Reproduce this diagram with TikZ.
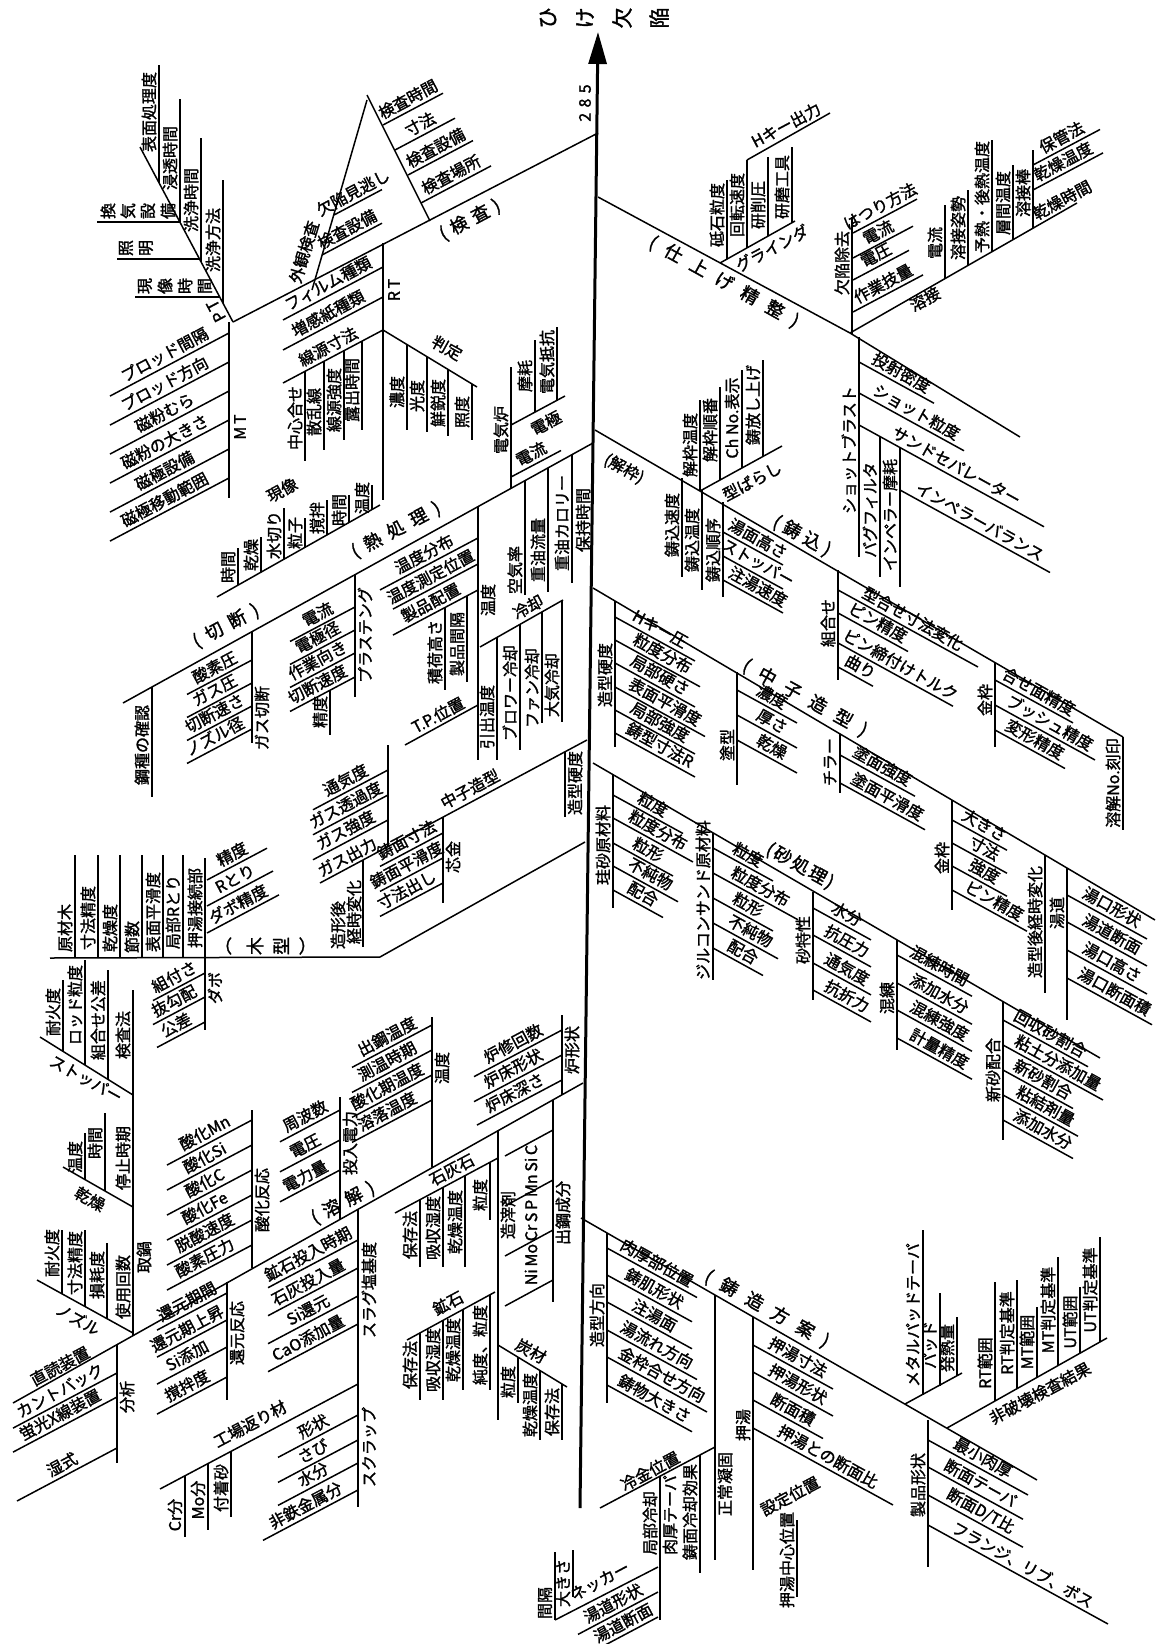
\documentclass[tikz,border=0pt]{standalone}
\usepackage{fontspec}
\usepackage{graphicx}
\setmainfont{Noto Sans CJK JP}[AutoFakeBold=1.6]
\usetikzlibrary{arrows.meta}
\newcounter{nn}
\tikzset{
  ln/.style={line width=1.5pt},
  sp/.style={line width=3pt},
  tx/.style={inner sep=0pt, font=\fontsize{16}{17}\selectfont\bfseries},
  ml/.style={inner sep=0pt, font=\fontsize{18}{19}\selectfont\bfseries},
  tl/.style={inner sep=0pt, font=\fontsize{21}{22}\selectfont\bfseries},
  vv/.style={tx, rotate=90},
  dl/.style={tx, rotate=28},
  dr/.style={tx, rotate=-29},
}
\makeatletter
\newcommand\spc[2][8pt]{\@tfor\@ch:=#2\do{\@ch\hspace{#1}}\unskip}
\newcommand\mylb[3]{\stepcounter{nn}\node[#1] (n\arabic{nn}) at (#2) {#3};}
% a row of glyphs, each one turned a quarter turn: style, x0, y, step, text
\newcommand\grow[5]{\pgfmathsetmacro\gx{#2}\@tfor\@ch:=#5\do{\mylb{#1,rotate=90}{\gx,#3}{\@ch}\pgfmathsetmacro\gx{\gx+#4}}}
\makeatother
\newcommand\lfL[4]{\pgfmathsetmacro\xa{#1-#3}\pgfmathsetmacro\ya{#2+0.53*#3}\pgfmathsetmacro\xm{#1-0.5*#3-5}\pgfmathsetmacro\ym{#2+0.265*#3-10}\draw[ln] (#1,#2) -- (\xa,\ya);\mylb{dl}{\xm,\ym}{#4}}
\newcommand\lfR[4]{\pgfmathsetmacro\xa{#1+#3}\pgfmathsetmacro\ya{#2+0.55*#3}\pgfmathsetmacro\xm{#1+0.5*#3+5}\pgfmathsetmacro\ym{#2+0.275*#3-10}\draw[ln] (#1,#2) -- (\xa,\ya);\mylb{dr}{\xm,\ym}{#4}}
\newcommand\lfU[4]{\pgfmathsetmacro\xa{#1+#3}\pgfmathsetmacro\ya{#2-0.53*#3}\pgfmathsetmacro\xm{#1+0.5*#3-5}\pgfmathsetmacro\ym{#2-0.265*#3-10}\draw[ln] (#1,#2) -- (\xa,\ya);\mylb{dl}{\xm,\ym}{#4}}
\newcommand\vbL[5]{\draw[ln] (#1,#2) -- (#1,#3);\pgfmathsetmacro\xm{#1-10}\mylb{vv}{\xm,#4}{#5}}
\newcommand\vbR[5]{\draw[ln] (#1,#2) -- (#1,#3);\pgfmathsetmacro\xm{#1+10}\mylb{vv}{\xm,#4}{#5}}
\begin{document}
\begin{tikzpicture}[x=1pt,y=-1pt]
\useasboundingbox (0,0) rectangle (1157,1644);
% ---------------- spine ----------------
\draw[sp,-{Triangle[length=32pt,width=18pt]}] (580,1508) -- (598,32);
\mylb{vv}{585,103}{2\,\,8\,\,5}
\grow{tl}{548}{18}{37}{ひけ欠陥}
% ================= LEFT: (検査) =================
\draw[ln] (598,133) -- (233,322);
\mylb{ml,rotate=28}{470,220}{\spc[6pt]{(検査)}}
% PT
\draw[ln] (233,322) -- (140,147);
\mylb{tx,rotate=118}{216,311}{P\,T}
\vbL{223}{303}{180}{240}{洗浄方法}
\vbL{201}{262}{138}{200}{洗浄時間}
\vbL{180}{222}{99}{158}{浸透時間}
\vbL{159}{183}{65}{112}{表面処理度}
\draw[ln] (97,222) -- (180,222); \grow{tx}{108}{211}{20}{換気設備}
\draw[ln] (117,259) -- (200,259); \grow{tx}{126}{248}{20}{照明}
\draw[ln] (135,297) -- (220,297); \grow{tx}{145}{286}{20}{現像時間}
% MT
\draw[ln] (229,322) -- (229,498);
\mylb{vv}{240,427}{M\,T}
\lfL{229}{333}{119}{プロッド間隔}
\lfL{229}{362}{119}{プロッド方向}
\lfL{229}{391}{119}{磁粉むら}
\lfL{229}{420}{119}{磁粉の大きさ}
\lfL{229}{449}{119}{磁極設備}
\lfL{229}{478}{119}{磁極移動範囲}
% RT
\draw[ln] (383,243) -- (383,500);
\mylb{vv}{394,290}{R\,T}
\lfL{383}{267}{100}{フィルム種類}
\lfL{383}{297}{100}{増感紙種類}
\lfL{383}{330}{100}{線源寸法}
\vbL{305}{371}{461}{418}{中心合せ}
\vbL{324}{361}{450}{412}{散乱線}
\vbL{344}{350}{440}{400}{線源強度}
\vbL{362}{341}{430}{390}{露出時間}
\draw[ln] (383,330) -- (477,387);
\mylb{dr}{447,348}{判定}
\vbL{407}{345}{430}{392}{濃度}
\vbL{427}{357}{432}{396}{光度}
\vbL{448}{370}{436}{403}{鮮鋭度}
\vbL{472}{384}{440}{412}{照度}
% 現像
\draw[ln] (217,597) -- (380,505);
\mylb{dl}{282,490}{現像}
\vbL{238}{585}{548}{567}{時間}
\vbL{261}{572}{537}{555}{乾燥}
\vbL{284}{559}{508}{535}{水切り}
\vbL{305}{547}{518}{533}{粒子}
\vbL{327}{535}{500}{518}{撹拌}
\vbL{349}{523}{495}{510}{時間}
\vbL{372}{510}{485}{498}{温度}
% 寸法 / 外観 clusters
\draw[ln] (430,221) -- (367,95);
\lfU{421}{203}{70}{検査場所}
\lfU{408}{175}{65}{検査設備}
\lfU{395}{150}{60}{寸法}
\lfU{383}{125}{60}{検査時間}
\draw[ln] (312,290) -- (367,100);
\mylb{tx,rotate=73}{304,252}{外観検査}
\lfU{334}{215}{48}{欠陥見逃し}
\lfU{322}{255}{60}{検査設備}
% ================= LEFT: (熱処理)(切断) =================
\draw[ln] (593,443) -- (123,703);
\mylb{ml,rotate=28}{396,530}{\spc[8pt]{(熱処理)}}
\mylb{ml,rotate=28}{226,626}{\spc[8pt]{(切断)}}
\vbL{152}{687}{797}{745}{鋼種の確認}
\vbR{252}{632}{743}{718}{ガス切断}
\lfL{252}{660}{65}{酸素圧}
\lfL{252}{683}{65}{ガス圧}
\lfL{252}{706}{65}{切断速さ}
\lfL{252}{729}{65}{ノズル径}
\vbR{355}{575}{697}{635}{プラステング}
\lfL{355}{607}{65}{電流}
\lfL{355}{630}{65}{電極径}
\lfL{355}{653}{65}{作業向き}
\lfL{355}{677}{65}{切断速度}
\vbL{330}{690}{735}{712}{精度}
% 電気炉
\vbL{511}{367}{488}{430}{電気炉}
\draw[ln] (511,425) -- (565,396);
\mylb{dl}{546,423}{電極}
\vbL{535}{412}{340}{376}{摩耗}
\vbL{557}{401}{327}{362}{電気抵抗}
\lfU{511}{477}{50}{電流}
% 重油炉
\vbL{525}{481}{595}{570}{空気率}
\vbL{548}{468}{592}{550}{重油流量}
\vbL{572}{455}{583}{523}{重油カロリー}
\mylb{vv}{583,520}{保持時間}
% 温度
\vbR{478}{507}{760}{600}{温度}
\lfL{478}{538}{98}{温度分布}
\lfL{478}{564}{85}{温度測定位置}
\lfL{478}{590}{85}{製品配置}
\vbL{445}{607}{690}{652}{積荷高さ}
\vbL{467}{596}{682}{644}{製品間隔}
\draw[ln] (480,647) -- (563,600);
\mylb{dl}{528,607}{冷却}
\vbL{497}{637}{760}{717}{引出温度}
\vbL{520}{624}{750}{693}{ブロワー冷却}
\vbL{542}{612}{723}{688}{ファン冷却}
\vbL{562}{601}{722}{685}{大気冷却}
\draw[ln] (405,745) -- (478,705);
\mylb{dl}{438,715}{T.P.位置}
% ================= LEFT: 中子 bone =================
\draw[ln] (587,740) -- (320,883);
\mylb{dl}{470,789}{中子造型}
\vbR{565}{752}{817}{783}{造型硬度}
\vbR{443}{817}{903}{857}{芯金}
\lfL{443}{833}{63}{鋳面寸法}
\lfL{443}{858}{63}{鋳面平滑度}
\lfL{443}{883}{63}{寸法出し}
\draw[ln] (388,847) -- (388,745);
\lfL{388}{770}{75}{通気度}
\lfL{388}{795}{75}{ガス透過度}
\lfL{388}{820}{75}{ガス強度}
\mylb{dl}{347,857}{ガス出力}
\draw[ln] (363,860) -- (363,947);
\mylb{vv}{354,912}{経時変化}
\mylb{vv}{338,925}{造形後}
% ================= LEFT: (木型) =================
\draw[ln] (585,842) -- (380,957) -- (50,958);
\grow{ml}{229}{946}{26}{︵木型︶}
\vbL{75}{958}{855}{928}{原材木}
\vbL{98}{958}{855}{918}{寸法精度}
\vbL{120}{958}{855}{928}{乾燥度}
\vbL{142}{958}{855}{937}{節数}
\vbL{163}{958}{855}{912}{表面平滑度}
\vbL{183}{958}{855}{912}{局部Rとり}
\vbL{205}{958}{858}{908}{押湯接続部}
\lfU{207}{880}{60}{精度}
\lfU{207}{906}{66}{Rとり}
\lfU{207}{933}{72}{ダボ精度}
\vbR{205}{958}{1030}{988}{ダボ}
\lfL{205}{973}{52}{組付さ}
\lfL{205}{997}{52}{抜勾配}
\lfL{205}{1022}{48}{公差}
% ================= LEFT: (溶解) =================
\draw[ln] (583,1083) -- (13,1403);
\mylb{ml,rotate=28}{343,1203}{\spc[7pt]{(溶解)}}
\vbR{553}{1100}{1302}{1213}{出鋼成分}
\mylb{vv}{531,1215}{Ni\,Mo\,Cr\,S\,P\,Mn\,Si\,C}
\draw[ln] (553,1130) -- (505,1156);
\draw[ln] (553,1180) -- (505,1206);
\draw[ln] (553,1230) -- (505,1256);
\draw[ln] (553,1280) -- (505,1306);
\vbR{498}{1130}{1420}{1215}{造滓剤}
\draw[ln] (498,1158) -- (395,1213);
\mylb{dl}{452,1170}{石灰石}
\vbL{420}{1200}{1267}{1235}{保存法}
\vbL{443}{1188}{1267}{1228}{吸収湿度}
\vbL{465}{1176}{1267}{1222}{乾燥温度}
\vbL{490}{1162}{1220}{1195}{粒度}
\draw[ln] (495,1292) -- (407,1340);
\mylb{dl}{448,1303}{鉱石}
\vbL{420}{1333}{1400}{1365}{保存法}
\vbL{443}{1320}{1400}{1360}{吸収湿度}
\vbL{463}{1310}{1390}{1350}{乾燥温度}
\vbL{490}{1295}{1390}{1345}{純度、粒度}
\draw[ln] (498,1345) -- (567,1387);
\mylb{dr}{531,1351}{炭材}
\vbL{518}{1357}{1403}{1382}{粒度}
\vbL{540}{1370}{1440}{1405}{乾燥温度}
\vbL{562}{1384}{1440}{1412}{保存法}
\vbR{562}{1095}{1015}{1050}{炉形状}
\lfL{562}{1030}{88}{炉修回数}
\lfL{562}{1055}{88}{炉床形状}
\lfL{562}{1080}{85}{炉床深さ}
\vbR{432}{1167}{1017}{1068}{温度}
\lfL{432}{1025}{80}{出鋼温度}
\lfL{432}{1050}{80}{測温時期}
\lfL{432}{1075}{80}{酸化期温度}
\lfL{432}{1100}{80}{溶落温度}
\vbR{340}{1219}{1097}{1143}{投入電力}
\lfL{340}{1110}{60}{周波数}
\lfL{340}{1140}{60}{電圧}
\lfL{340}{1170}{60}{電力量}
\vbR{252}{1268}{1110}{1200}{酸化反応}
\lfL{252}{1120}{85}{酸化Mn}
\lfL{252}{1145}{85}{酸化Si}
\lfL{252}{1170}{85}{酸化C}
\lfL{252}{1195}{85}{酸化Fe}
\lfL{252}{1220}{85}{脱酸速度}
\lfL{252}{1245}{85}{酸素圧力}
% 取鍋
\draw[ln] (133,990) -- (133,1335);
\mylb{vv}{144,1257}{取鍋}
\draw[ln] (133,1095) -- (40,1037);
\mylb{dr}{86,1079}{ストッパー}
\vbL{63}{1051}{980}{1012}{耐火度}
\vbL{85}{1065}{960}{1005}{ロッド粒度}
\vbL{108}{1079}{970}{1020}{組合せ公差}
\mylb{vv}{123,1035}{検査法}
\draw[ln] (133,1207) -- (63,1167);
\mylb{dr}{90,1199}{乾燥}
\vbL{85}{1180}{1133}{1157}{温度}
\vbL{105}{1191}{1113}{1143}{時間}
\mylb{vv}{123,1158}{停止時期}
\draw[ln] (133,1333) -- (37,1280);
\mylb{dr}{78,1319}{ノズル}
\vbL{62}{1294}{1230}{1253}{耐火度}
\vbL{85}{1306}{1230}{1263}{寸法精度}
\vbL{107}{1319}{1243}{1275}{損耗度}
\mylb{vv}{123,1287}{使用回数}
% 分析
\vbR{117}{1345}{1463}{1397}{分析}
\mylb{dl}{60,1366}{直読装置}
\lfL{117}{1373}{104}{カントバック}
\lfL{117}{1397}{104}{蛍光X線装置}
\lfL{117}{1448}{100}{湿式}
% 還元反応
\vbR{227}{1282}{1400}{1333}{還元反応}
\lfL{227}{1293}{70}{還元期間}
\lfL{227}{1320}{70}{還元期上昇}
\lfL{227}{1347}{70}{Si添加}
\lfL{227}{1377}{70}{撹拌度}
% スラグ塩基度 / スクラップ
\draw[ln] (358,1209) -- (358,1507);
\mylb{vv}{369,1290}{スラグ塩基度}
\mylb{vv}{369,1447}{スクラップ}
\lfL{358}{1240}{90}{鉱石投入時期}
\lfL{358}{1268}{90}{石灰投入量}
\lfL{358}{1296}{90}{Si還元}
\lfL{358}{1324}{90}{CaO添加量}
\draw[ln] (358,1384) -- (160,1489);
\mylb{dl}{250,1424}{工場返り材}
\vbL{185}{1476}{1537}{1515}{Cr分}
\vbL{208}{1464}{1530}{1500}{Mo分}
\vbL{231}{1451}{1517}{1488}{付着砂}
\lfL{358}{1415}{80}{形状}
\lfL{358}{1440}{80}{さび}
\lfL{358}{1463}{80}{水分}
\lfL{358}{1490}{95}{非鉄金属分}
% ================= RIGHT: (仕上げ精整) =================
\draw[ln] (598,197) -- (850,333) -- (1020,437);
\mylb{ml,rotate=-29}{724,282}{\spc[11pt]{(仕上げ精整)}}
\draw[ln] (720,263) -- (795,221);
\mylb{dl}{772,248}{グラインダ}
\vbL{727}{259}{180}{215}{砥石粒度}
\vbL{747}{248}{160}{205}{回転速度}
\vbL{768}{236}{157}{205}{研削圧}
\vbL{792}{223}{147}{187}{研磨工具}
\draw[ln] (747,160) -- (830,113);
\mylb{dl}{786,125}{Hキー出力}
\vbL{852}{334}{217}{263}{欠陥除去}
\lfU{853}{233}{64}{はつり方法}
\lfU{853}{258}{60}{電流}
\lfU{853}{280}{56}{電圧}
\lfU{853}{312}{70}{作業技量}
\draw[ln] (850,333) -- (1077,203);
\mylb{dl}{925,299}{溶接}
\vbL{945}{279}{205}{243}{電流}
\vbL{968}{266}{190}{228}{溶接姿勢}
\vbL{992}{252}{140}{197}{予熱・後熱温度}
\vbL{1013}{240}{165}{203}{層間温度}
\vbL{1033}{228}{150}{193}{溶接棒}
\lfU{1033}{165}{67}{保管法}
\lfU{1033}{190}{70}{乾燥温度}
\mylb{dl}{1062,200}{乾燥時間}
\vbL{859}{337}{557}{450}{ショットブラスト}
\lfR{859}{362}{75}{投射密度}
\lfR{859}{393}{105}{ショット粒度}
\lfR{859}{425}{185}{サンドセパレーター}
\vbL{880}{437}{577}{510}{バグフィルタ}
\vbL{900}{447}{587}{515}{インペラー摩耗}
\lfR{900}{490}{150}{インペラーバランス}
% ================= RIGHT: (解枠)(鋳込) =================
\draw[ln] (595,430) -- (1123,737);
\mylb{dr}{624,469}{(解枠)}
\vbL{700}{491}{400}{445}{解枠温度}
\draw[ln] (700,491) -- (782,446);
\vbL{720}{480}{387}{430}{解枠順番}
\vbL{742}{468}{370}{418}{Ch No.表示}
\vbL{763}{457}{360}{405}{鋳放し上げ}
\mylb{dl}{752,481}{型ばらし}
\vbL{682}{478}{577}{525}{鋳込速度}
\vbL{702}{490}{590}{540}{鋳込温度}
\vbL{723}{502}{597}{550}{鋳込順序}
\lfR{723}{532}{60}{湯面高さ}
\lfR{723}{556}{60}{ストッパー}
\lfR{723}{580}{60}{注湯速度}
\mylb{ml,rotate=-29}{802,536}{\spc[5pt]{(鋳込)}}
\vbL{838}{570}{680}{623}{組合せ}
\lfR{838}{590}{140}{型合せ寸法変化}
\lfR{838}{613}{70}{ピン精度}
\lfR{838}{643}{115}{ピン締付けトルク}
\lfR{838}{667}{35}{曲り}
\vbL{995}{663}{747}{700}{金枠}
\lfR{995}{680}{78}{合せ面精度}
\lfR{995}{705}{100}{ブッシュ精度}
\lfR{995}{730}{70}{変形精度}
\vbL{1123}{737}{830}{783}{溶解No.刻印}
% ================= RIGHT: (中子造型) =================
\draw[ln] (593,588) -- (1155,920);
\mylb{ml,rotate=-29}{805,698}{\spc[11pt]{(中子造型)}}
\vbL{615}{601}{747}{675}{造型硬度}
\lfR{615}{617}{80}{Hキー圧}
\lfR{615}{640}{85}{粒度分布}
\lfR{615}{663}{80}{局部硬さ}
\lfR{615}{687}{90}{表面平滑度}
\lfR{615}{710}{80}{局部強度}
\lfR{615}{733}{80}{鋳型寸法R}
\vbL{737}{672}{785}{745}{塗型}
\lfR{737}{690}{60}{濃度}
\lfR{737}{715}{60}{厚さ}
\lfR{737}{740}{60}{乾燥}
\vbL{840}{734}{793}{762}{チラー}
\lfR{840}{755}{75}{塗面強度}
\lfR{840}{783}{85}{塗面平滑度}
\vbL{952}{800}{910}{858}{金枠}
\lfR{952}{820}{55}{大きさ}
\lfR{952}{843}{55}{寸法}
\lfR{952}{866}{55}{強度}
\lfR{952}{890}{75}{ピン精度}
\vbL{1045}{855}{993}{922}{造型後経時変化}
\vbL{1067}{868}{1020}{913}{湯道}
\lfR{1067}{895}{80}{湯口形状}
\lfR{1067}{922}{80}{湯道断面}
\lfR{1067}{950}{80}{湯口高さ}
\lfR{1067}{978}{85}{湯口断面積}
% ================= RIGHT: (砂処理) =================
\draw[ln] (593,763) -- (1100,1058);
\mylb{ml,rotate=-29}{800,866}{\spc[2pt]{(砂処理)}}
\vbL{613}{775}{908}{845}{珪砂原材料}
\lfR{613}{795}{70}{粒度}
\lfR{613}{818}{80}{粒度分布}
\lfR{613}{843}{60}{粒形}
\lfR{613}{866}{65}{不純物}
\lfR{613}{890}{50}{配合}
\vbL{713}{833}{980}{900}{ジルコンサンド原材料}
\lfR{713}{848}{60}{粒度}
\lfR{713}{873}{85}{粒度分布}
\lfR{713}{898}{60}{粒形}
\lfR{713}{923}{65}{不純物}
\lfR{713}{948}{50}{配合}
\vbL{813}{892}{1000}{940}{砂特性}
\lfR{813}{908}{58}{水分}
\lfR{813}{935}{58}{抗圧力}
\lfR{813}{963}{58}{通気度}
\lfR{813}{990}{58}{抗折力}
\vbL{897}{940}{1050}{998}{混練}
\lfR{897}{955}{75}{混練時間}
\lfR{897}{983}{75}{添加水分}
\lfR{897}{1010}{75}{混練強度}
\lfR{897}{1038}{75}{計量精度}
\vbL{1003}{1002}{1140}{1070}{新砂配合}
\lfR{1003}{1020}{85}{回収砂割合}
\lfR{1003}{1045}{100}{粘土分添加量}
\lfR{1003}{1070}{70}{新砂割合}
\lfR{1003}{1095}{75}{粘結剤量}
\lfR{1003}{1120}{70}{添加水分}
% ================= RIGHT: (鋳造方案) =================
\draw[ln] (581,1218) -- (1037,1480);
\mylb{ml,rotate=-29}{767,1309}{\spc[11pt]{(鋳造方案)}}
\vbL{607}{1233}{1403}{1315}{造型方向}
\lfR{607}{1248}{90}{肉厚部位置}
\lfR{607}{1275}{85}{鋳肌形状}
\lfR{607}{1302}{85}{注湯面}
\lfR{607}{1330}{90}{湯流れ方向}
\lfR{607}{1357}{100}{金枠合せ方向}
\lfR{607}{1385}{85}{鋳物大きさ}
\vbR{715}{1295}{1560}{1484}{正常凝固}
\draw[ln] (715,1447) -- (600,1508);
\mylb{dl}{650,1471}{冷金位置}
\vbL{660}{1476}{1620}{1523}{局部冷却}
\mylb{vv}{670,1515}{肉厚テーパ}
\vbL{700}{1455}{1573}{1512}{鋳面冷却効果}
\vbL{555}{1552}{1620}{1603}{間隔}
\vbL{573}{1550}{1597}{1583}{大きさ}
\draw[ln] (555,1620) -- (658,1567);
\mylb{dl}{600,1581}{ネッカー}
\lfL{658}{1592}{80}{湯道形状}
\lfL{658}{1617}{60}{湯道断面}
\vbL{753}{1317}{1570}{1425}{押湯}
\lfR{753}{1345}{80}{押湯寸法}
\lfR{753}{1372}{80}{押湯形状}
\lfR{753}{1400}{70}{断面積}
\lfR{753}{1428}{140}{押湯との断面比}
\vbL{797}{1520}{1597}{1560}{押湯中心位置}
\mylb{dl}{790,1496}{設定位置}
\draw[ln] (905,1404) -- (962,1373);
\vbL{923}{1395}{1230}{1315}{メタルパッドテーパ}
\vbL{940}{1386}{1293}{1345}{パッド}
\vbL{957}{1376}{1317}{1348}{発熱量}
\draw[ln] (947,1428) -- (1107,1338);
\mylb{dl}{1040,1393}{非破壊検査結果}
\vbL{995}{1401}{1282}{1363}{RT範囲}
\vbL{1017}{1389}{1280}{1333}{RT判定基準}
\vbL{1037}{1377}{1307}{1342}{MT範囲}
\vbL{1058}{1366}{1257}{1310}{MT判定基準}
\vbL{1080}{1353}{1287}{1322}{UT範囲}
\vbL{1100}{1342}{1237}{1290}{UT判定基準}
\vbL{928}{1420}{1567}{1485}{製品形状}
\lfR{928}{1440}{100}{最小肉厚}
\lfR{928}{1467}{95}{断面テーパ}
\lfR{928}{1495}{95}{断面D/T比}
\lfR{928}{1525}{180}{フランジ、リブ、ボス}
\end{tikzpicture}
\end{document}
